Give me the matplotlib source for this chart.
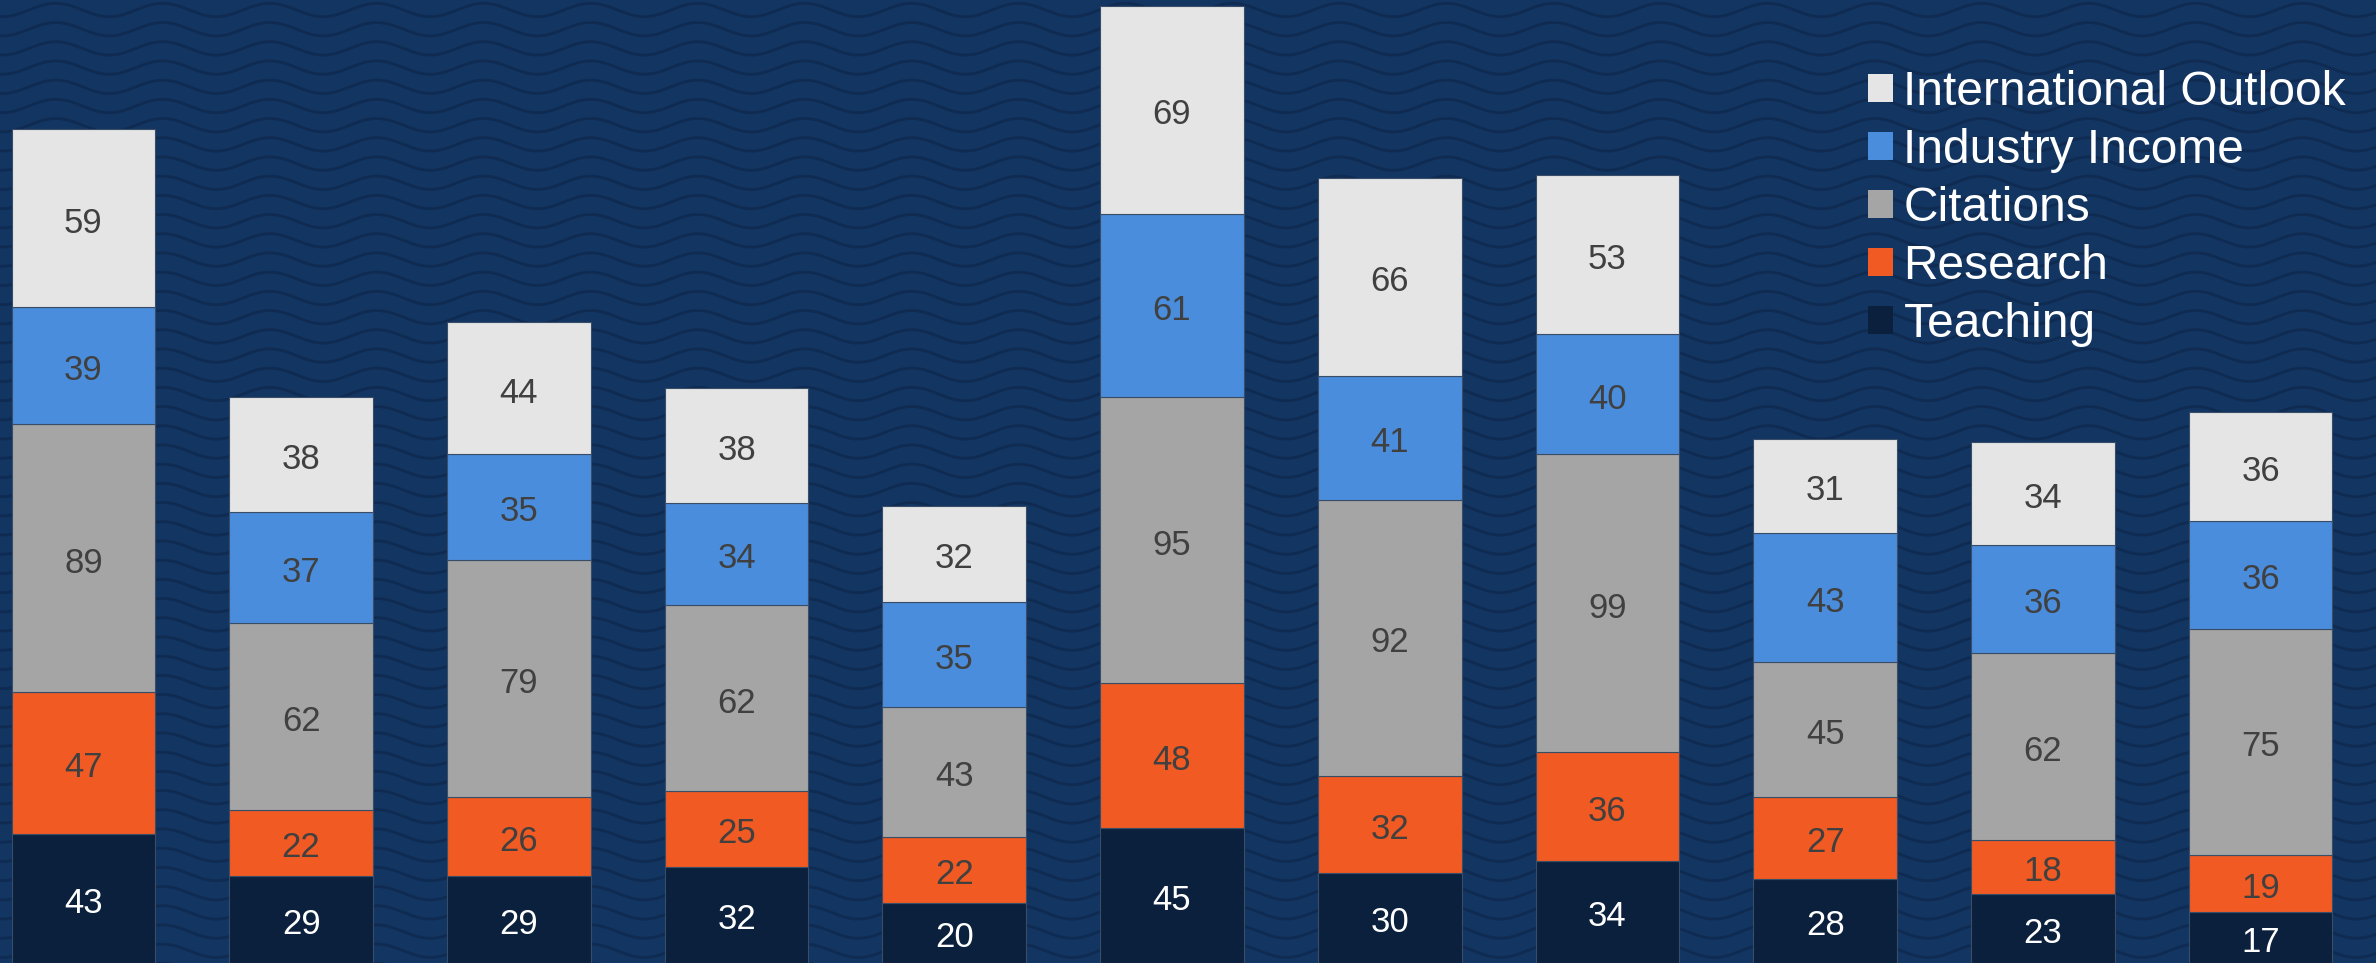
import numpy as np
import matplotlib
matplotlib.use("Agg")
import matplotlib.pyplot as plt
from matplotlib.patches import Patch

plt.rcParams["font.family"] = ["Liberation Sans", "DejaVu Sans"]

# Werte pro Balken (von unten nach oben gestapelt)
teaching = [43, 29, 29, 32, 20, 45, 30, 34, 28, 23, 17]
research = [47, 22, 26, 25, 22, 48, 32, 36, 27, 18, 19]
citations = [89, 62, 79, 62, 43, 95, 92, 99, 45, 62, 75]
industry = [39, 37, 35, 34, 35, 61, 41, 40, 43, 36, 36]
international = [59, 38, 44, 38, 32, 69, 66, 53, 31, 34, 36]

series_names = ["Teaching", "Research", "Citations", "Industry Income", "International Outlook"]
series_values = [teaching, research, citations, industry, international]
series_colors = ["#0b203d", "#f15a22", "#a5a5a5", "#4a8ddc", "#e5e5e5"]
label_colors = ["white", "#404040", "#404040", "#404040", "#404040"]

bg = "#123562"
W, H = 2376, 963
fig = plt.figure(figsize=(W / 100, H / 100), dpi=100, facecolor=bg)

# Hintergrund mit Wellenmuster (nur Dekoration)
bg_ax = fig.add_axes([0, 0, 1, 1], zorder=0)
bg_ax.set_xlim(0, W)
bg_ax.set_ylim(H, 0)
bg_ax.set_facecolor(bg)
bg_ax.axis("off")
xs = np.linspace(0, W, 1500)
for y0 in np.arange(10 - 19.2 * 2, H + 30, 19.2):
    bg_ax.plot(xs, y0 + 6.7 * np.sin(2 * np.pi * (xs - 82.5) / 107),
               color="#0f2b52", lw=2.0, solid_capstyle="butt")

# Balkendiagramm
ax = fig.add_axes([0, 0, 1, 1], zorder=1)
ax.set_facecolor("none")
x = np.arange(len(teaching))
bottom = np.zeros(len(teaching))
handles = []
for name, vals, col, lcol in zip(series_names, series_values, series_colors, label_colors):
    bars = ax.bar(x, vals, width=0.66, bottom=bottom, color=col,
                  edgecolor="#3a4d66", linewidth=0.8)
    # Beschriftung mittig im Segment, leicht nach unten versetzt
    for rect, v in zip(bars, vals):
        cx = rect.get_x() + rect.get_width() / 2
        cy = rect.get_y() + rect.get_height() / 2
        ax.annotate(str(v), (cx, cy), xytext=(0, -3.5), textcoords="offset points",
                    ha="center", va="center", color=lcol, fontsize=25)
    bottom += np.array(vals)
    handles.append(Patch(facecolor=col, label=name))

ax.set_xlim(-0.383, 10.53)
ax.set_ylim(0, 320)
ax.axis("off")

leg = ax.legend(handles=handles[::-1], loc="upper left",
                bbox_to_anchor=(1868 / W, 1 - 70 / H), bbox_transform=fig.transFigure,
                frameon=False, fontsize=34.5, handlelength=0.52, handleheight=0.52,
                handletextpad=0.22, labelspacing=0.27, borderpad=0, borderaxespad=0)
for t in leg.get_texts():
    t.set_color("white")

fig.savefig("out.png", dpi=100, facecolor=bg)
